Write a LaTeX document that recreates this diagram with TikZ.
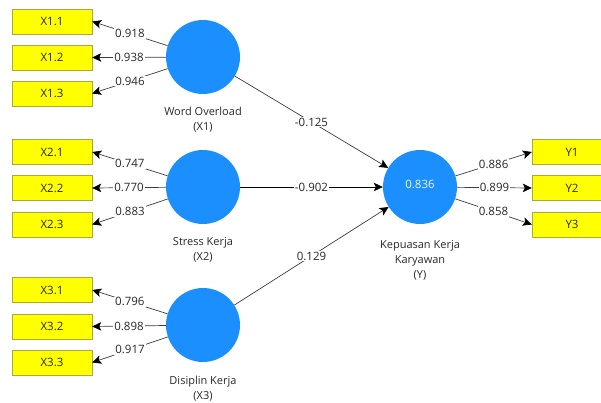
\documentclass[tikz,border=0pt]{standalone}
\usepackage{fontspec}
\setmainfont{Open Sans}
\usepackage{xcolor}
\usepackage{tikz}
\usetikzlibrary{shapes, arrows.meta, positioning}

\definecolor{lvblue}{RGB}{28,143,255}
\definecolor{mvyellow}{RGB}{255,255,0}
\definecolor{mvborder}{RGB}{170,170,60}
\definecolor{pathgray}{RGB}{60,60,60}
\definecolor{txtgray}{RGB}{40,40,40}

\tikzset{
  indbox/.style={draw=mvborder, fill=mvyellow, minimum width=80pt, minimum height=25pt, inner sep=0pt, text=txtgray},
  latent/.style={circle, fill=lvblue, minimum size=74pt, inner sep=0pt, text=white!92!lvblue},
  coef/.style={fill=white, inner sep=1pt, text=txtgray},
  lvname/.style={align=center, text=txtgray, font=\fontsize{11}{15}\selectfont},
  link/.style={draw=pathgray, line width=0.7pt, -{Stealth[length=9pt, width=8.5pt, inset=2pt, black]}}
}

\begin{document}
\begin{tikzpicture}[x=1pt, y=-1pt, font=\fontsize{11.5}{14}\selectfont]
        \useasboundingbox (0,0) rectangle (601,403);

        % Indicators
        \node[indbox] (x11) at (52,21.5) {X1.1};
        \node[indbox] (x12) at (52,57.5) {X1.2};
        \node[indbox] (x13) at (52,93.5) {X1.3};
        \node[indbox] (x21) at (52,152) {X2.1};
        \node[indbox] (x22) at (52,188) {X2.2};
        \node[indbox] (x23) at (52,224.5) {X2.3};
        \node[indbox] (x31) at (52,290) {X3.1};
        \node[indbox] (x32) at (52,326.5) {X3.2};
        \node[indbox] (x33) at (52,362.5) {X3.3};
        \node[indbox] (y1) at (572,152) {Y1};
        \node[indbox] (y2) at (572,188) {Y2};
        \node[indbox] (y3) at (572,224.5) {Y3};

        % Latent variables
        \node[latent] (lvX1) at (203,57) {};
        \node[latent] (lvX2) at (203,187) {};
        \node[latent] (lvX3) at (203,325) {};
        \node[latent] (lvY) at (420,187) {};
        \node[text=white!92!lvblue] (r2) at (420,184) {0.836};

        \node[lvname] (nX1) at (203,120) {Word Overload\\(X1)};
        \node[lvname] (nX2) at (203,250) {Stress Kerja\\(X2)};
        \node[lvname] (nX3) at (203,389) {Disiplin Kerja\\(X3)};
        \node[lvname] (nY) at (420,260) {Kepuasan Kerja\\Karyawan\\(Y)};

        % Outer loadings
        \foreach \lv/\ind/\val in {lvX1/x11/0.918, lvX1/x12/0.938, lvX1/x13/0.946,
                                   lvX2/x21/0.747, lvX2/x22/0.770, lvX2/x23/0.883,
                                   lvX3/x31/0.796, lvX3/x32/0.898, lvX3/x33/0.917} {
            \draw[link] (\lv) -- node[coef] {\val} (\ind.east);
        }
        \foreach \ind/\val in {y1/0.886, y2/0.899, y3/0.858} {
            \draw[link] (lvY) -- node[coef] {\val} (\ind.west);
        }

        % Path coefficients
        \draw[link] (lvX1) -- node[coef] {-0.125} (lvY);
        \draw[link, draw=black] (lvX2) -- node[coef] {-0.902} (lvY);
        \draw[link] (lvX3) -- node[coef] {0.129} (lvY);
    \end{tikzpicture}
\end{document}
